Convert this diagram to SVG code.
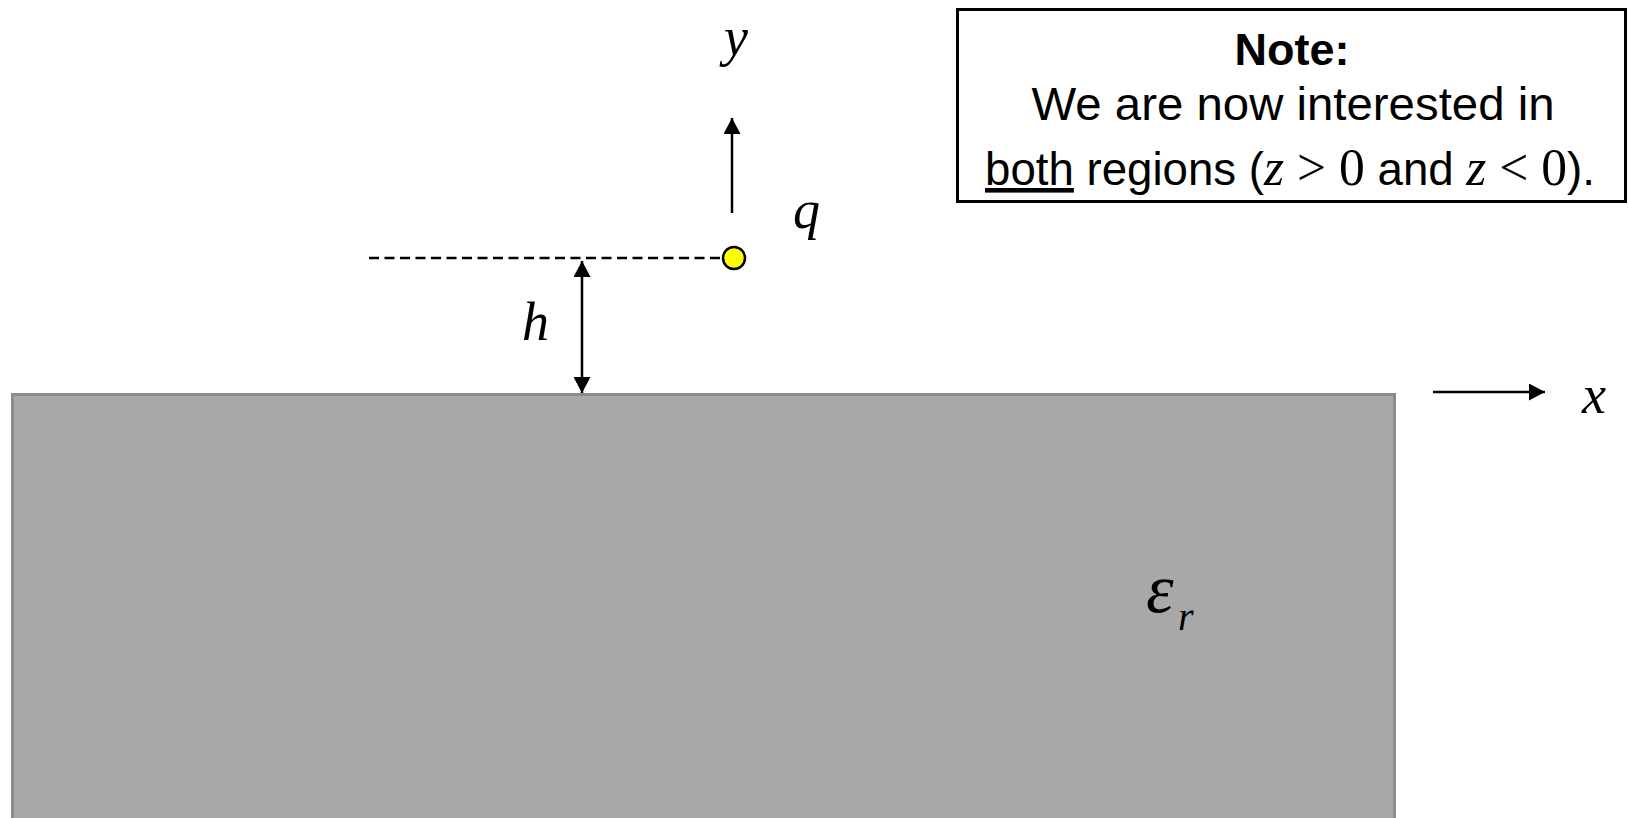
<svg xmlns="http://www.w3.org/2000/svg" width="1628" height="818" viewBox="0 0 1628 818">
<style>
.it{font-family:"Liberation Serif","Times New Roman",serif;font-style:italic;fill:#000}
.rm{font-family:"Liberation Serif","Times New Roman",serif;font-style:normal}
.sans{font-family:"Liberation Sans",Arial,sans-serif;fill:#000}
.ln{stroke:#000;stroke-width:2.5;fill:none}
</style>
<defs>
<marker id="ah" markerUnits="userSpaceOnUse" markerWidth="16" markerHeight="17" refX="16" refY="8.5" orient="auto-start-reverse">
<path d="M0,0 L16,8.5 L0,17 Z" fill="#000"/>
</marker>
</defs>
<rect width="1628" height="818" fill="#fff"/>
<g id="dielectric">
<rect x="12.5" y="394.5" width="1382" height="440" fill="#a8a8a8" stroke="#8c8c8c" stroke-width="3"/>
<text class="it" x="1146" y="612" font-size="70">ε</text>
<text class="it" x="1178" y="630" font-size="40">r</text>
</g>
<g id="connectors">
<line class="ln" x1="369" y1="258" x2="722" y2="258" stroke-dasharray="10,5.5"/>
<line class="ln" x1="732" y1="213" x2="732" y2="118" marker-end="url(#ah)"/>
<line class="ln" x1="582" y1="261" x2="582" y2="393" marker-start="url(#ah)" marker-end="url(#ah)"/>
<line class="ln" x1="1433" y1="392" x2="1545" y2="392" marker-end="url(#ah)"/>
</g>
<g id="charge">
<circle cx="734" cy="258" r="11" fill="#ffff00" stroke="#000" stroke-width="2.5"/>
<text class="it" x="793" y="228" font-size="54">q</text>
</g>
<g id="labels">
<text class="it" x="736" y="55" font-size="54" text-anchor="middle">y</text>
<text class="it" x="522" y="340" font-size="54">h</text>
<text class="it" x="1582" y="413" font-size="54">x</text>
</g>
<g id="note">
<rect x="957.5" y="9.5" width="668" height="192" fill="#fff" stroke="#000" stroke-width="3"/>
<text class="sans" x="1292" y="65" font-size="45" font-weight="bold" text-anchor="middle">Note:</text>
<text class="sans" x="1293" y="120" font-size="46" text-anchor="middle" textLength="523" lengthAdjust="spacingAndGlyphs">We are now interested in</text>
<text class="sans" x="985" y="185" font-size="46" textLength="610" lengthAdjust="spacingAndGlyphs"><tspan text-decoration="underline">both</tspan> regions (<tspan class="it" font-size="52">z</tspan><tspan class="rm" font-size="52"> &gt; 0</tspan> and <tspan class="it" font-size="52">z</tspan><tspan class="rm" font-size="52"> &lt; 0</tspan>).</text>
</g>
</svg>
